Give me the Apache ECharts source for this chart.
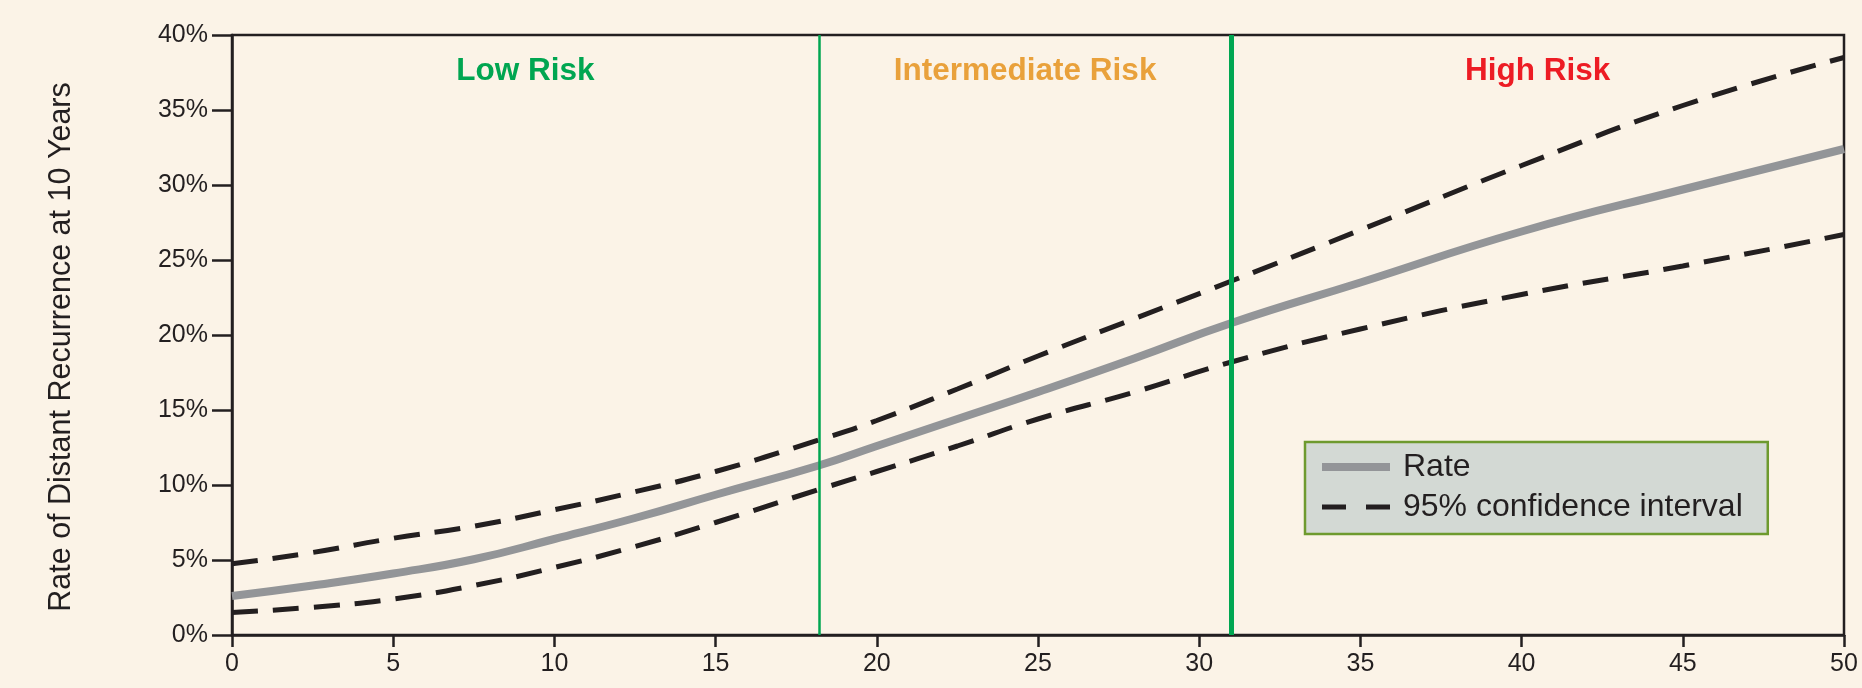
<!DOCTYPE html>
<html>
<head>
<meta charset="utf-8">
<script src="https://cdn.jsdelivr.net/npm/echarts@6/dist/echarts.min.js"></script>
<style>
  html, body { margin: 0; padding: 0; background: #FBF3E7; }
  #chart { width: 1862px; height: 688px; }
</style>
</head>
<body>
<div id="chart"></div>
<script>
// ---- Data ----
var score = [0, 2.5, 5, 7.5, 10, 12.5, 15, 18.2, 20, 22.5, 25, 28, 31, 35, 40, 45, 50];
var rate  = [2.6, 3.3, 4.1, 5.05, 6.4, 7.8, 9.35, 11.3, 12.6, 14.4, 16.2, 18.45, 20.8, 23.5, 26.9, 29.7, 32.4];
var upper = [4.75, 5.5, 6.45, 7.25, 8.35, 9.55, 10.9, 13.0, 14.3, 16.4, 18.6, 21.1, 23.6, 27.0, 31.3, 35.3, 38.5];
var lower = [1.5, 1.85, 2.4, 3.3, 4.5, 5.9, 7.5, 9.7, 10.9, 12.6, 14.4, 16.2, 18.2, 20.4, 22.7, 24.6, 26.7];
var riskCuts = [18.2, 31];
var riskNames = ['Low Risk', 'Intermediate Risk', 'High Risk'];
var riskColors = ['#00A651', '#E9A13B', '#ED1C24'];
var xRange = [0, 50];
var yTicksPct = [0, 5, 10, 15, 20, 25, 30, 35, 40];

function pairs(ys) { return score.map(function (x, i) { return [x, ys[i]]; }); }

var bounds = [xRange[0]].concat(riskCuts).concat([xRange[1]]);
var labelLevel = 37.6;
var riskLabelData = riskNames.map(function (n, i) {
  return {
    value: [(bounds[i] + bounds[i + 1]) / 2, labelLevel],
    name: n,
    label: { color: riskColors[i] }
  };
});

var ink = '#231F20';
var grayLine = '#939598';
var font = '"Liberation Sans", Arial, Helvetica, sans-serif';
var hiddenSymbol = { color: 'rgba(0,0,0,0)', borderWidth: 0, opacity: 0 };
var dash = [26, 15];

var chart = echarts.init(document.getElementById('chart'), null, { renderer: 'canvas' });
chart.setOption({
  backgroundColor: '#FBF3E7',
  animation: false,
  textStyle: { fontFamily: font },
  grid: {
    left: 232, right: 18, top: 35, bottom: 53,
    show: true, borderColor: ink, borderWidth: 2.5, backgroundColor: 'transparent'
  },
  legend: {
    orient: 'vertical',
    left: 1305, top: 442,
    padding: [9, 25, 11, 13],
    itemGap: 8,
    itemWidth: 68, itemHeight: 14,
    backgroundColor: '#D3D9D4',
    borderColor: '#6E9A2E', borderWidth: 2.5,
    textStyle: { fontSize: 32, color: ink, fontFamily: font, padding: [0, 0, 0, 8] },
    itemStyle: hiddenSymbol,
    data: [
      { name: 'Rate', itemStyle: hiddenSymbol, lineStyle: { color: grayLine, width: 8, type: 'solid' } },
      { name: '95% confidence interval', itemStyle: hiddenSymbol, lineStyle: { color: ink, width: 5, type: [24, 20] } }
    ]
  },
  xAxis: {
    type: 'value', min: xRange[0], max: xRange[1], interval: 5,
    axisLine: { show: true, lineStyle: { color: ink, width: 2.5 } },
    axisTick: { show: true, length: 12, lineStyle: { color: ink, width: 2.5 } },
    axisLabel: { fontSize: 25, color: ink, margin: 17, fontFamily: font },
    splitLine: { show: false }
  },
  yAxis: {
    type: 'value', min: yTicksPct[0], max: yTicksPct[yTicksPct.length - 1], interval: 5,
    name: 'Rate of Distant Recurrence at 10 Years',
    nameLocation: 'middle', nameGap: 155,
    nameTextStyle: { fontSize: 30.5, color: ink, fontFamily: font, padding: [0, 24, 0, 0] },
    axisLine: { show: true, lineStyle: { color: ink, width: 2.5 } },
    axisTick: { show: true, length: 20, lineStyle: { color: ink, width: 2.5 } },
    axisLabel: { fontSize: 25, color: ink, margin: 24, formatter: '{value}%', fontFamily: font },
    splitLine: { show: false }
  },
  series: [
    {
      name: 'cuts', type: 'line', data: [], silent: true, z: 1,
      markLine: {
        silent: true, symbol: 'none', label: { show: false },
        data: [
          { xAxis: riskCuts[0], lineStyle: { color: '#00A651', width: 2.5, type: 'solid' } },
          { xAxis: riskCuts[1], lineStyle: { color: '#00A651', width: 5, type: 'solid' } }
        ]
      }
    },
    {
      name: 'Rate', type: 'line', data: pairs(rate), z: 3,
      smooth: 0.5, symbol: 'none',
      lineStyle: { color: grayLine, width: 8 },
      itemStyle: { color: grayLine }
    },
    {
      name: '95% confidence interval', type: 'line', data: pairs(upper), z: 4,
      smooth: 0.5, symbol: 'none',
      lineStyle: { color: ink, width: 5, type: dash },
      itemStyle: { color: ink }
    },
    {
      name: '95% confidence interval', type: 'line', data: pairs(lower), z: 4,
      smooth: 0.5, symbol: 'none',
      lineStyle: { color: ink, width: 5, type: dash },
      itemStyle: { color: ink }
    },
    {
      name: 'risk', type: 'scatter', data: riskLabelData, symbolSize: 0, silent: true, z: 5,
      itemStyle: { opacity: 1 },
      label: {
        show: true, position: 'inside', formatter: '{b}',
        fontSize: 31.5, fontWeight: 'bold', fontFamily: font,
        textBorderWidth: 0, opacity: 1
      }
    }
  ]
});
</script>
</body>
</html>
